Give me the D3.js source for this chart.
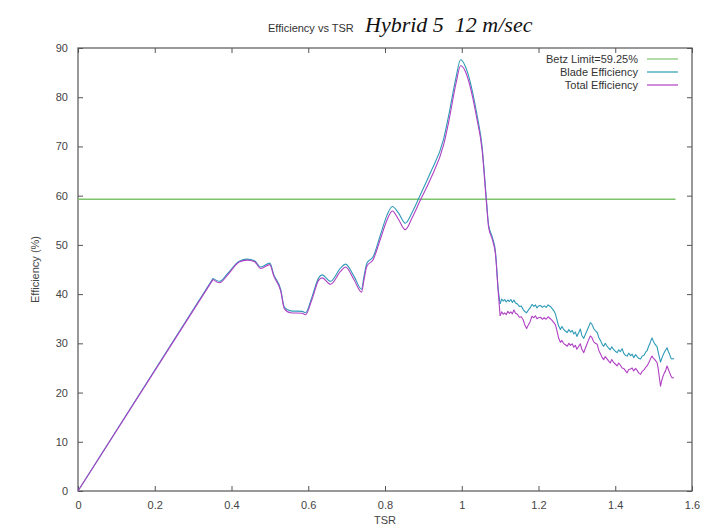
<!DOCTYPE html>
<html>
<head>
<meta charset="utf-8">
<script src="https://cdn.jsdelivr.net/npm/d3@7"></script>
<style>
  body { margin: 0; background: #fff; }
</style>
</head>
<body>
<div id="chart"></div>
<script>
// ─── DATA ───
// smooth part of the curves (0 .. 1.1)
const tsrSmooth = [0, 0.352, 0.369, 0.39, 0.42, 0.441, 0.46, 0.476, 0.5, 0.51, 0.528, 0.538, 0.554, 0.584, 0.593,
  0.61, 0.627, 0.636, 0.658, 0.684, 0.697, 0.72, 0.739, 0.745, 0.753, 0.769, 0.788, 0.805, 0.819, 0.835, 0.853,
  0.87, 0.891, 0.918, 0.953, 0.966, 0.985, 0.997, 1.008, 1.018, 1.04, 1.053, 1.064, 1.07, 1.08, 1.088, 1.095, 1.1];
const bladeSmooth = [0, 43.2, 42.6, 44.2, 46.7, 47.1, 46.8, 45.5, 46.3, 44.0, 41.0, 37.3, 36.6, 36.5, 36.2,
  39.5, 43.3, 43.9, 42.6, 45.3, 46.1, 43.5, 41.0, 43.5, 46.3, 47.6, 52.0, 56.0, 57.8, 56.5, 54.4,
  56.5, 60.0, 64.6, 71.6, 76.3, 84.0, 87.6, 86.5, 84.3, 76.3, 70.0, 59.5, 54.0, 51.5, 48.5, 41.0, 38.0];
const totalSmooth = [0, 43.0, 42.3, 43.9, 46.5, 46.9, 46.6, 45.2, 46.0, 43.7, 40.7, 37.0, 36.2, 36.1, 35.8,
  39.0, 42.8, 43.3, 42.0, 44.6, 45.5, 42.8, 40.4, 42.8, 45.7, 47.0, 51.2, 55.0, 56.9, 55.2, 53.1,
  55.4, 58.9, 63.3, 70.4, 75.0, 82.8, 86.4, 85.5, 83.3, 75.4, 69.3, 58.9, 53.6, 51.0, 48.0, 40.5, 35.6];

// noisy tail (after 1.1)
const tsrTail = [1.104, 1.108, 1.112, 1.116, 1.120, 1.124, 1.128, 1.132, 1.136, 1.140,
  1.145, 1.150, 1.155, 1.160, 1.165, 1.169, 1.174, 1.178, 1.183, 1.188,
  1.192, 1.196, 1.200, 1.205, 1.210, 1.215, 1.220, 1.225, 1.231, 1.236,
  1.240, 1.244, 1.248, 1.252, 1.257, 1.261, 1.265, 1.270, 1.275, 1.279,
  1.283, 1.288, 1.292, 1.296, 1.300, 1.305, 1.309, 1.313, 1.318, 1.322,
  1.326, 1.330, 1.335, 1.339, 1.344, 1.348, 1.353, 1.357, 1.362, 1.366,
  1.370, 1.374, 1.378, 1.383, 1.387, 1.391, 1.395, 1.400, 1.405, 1.409,
  1.413, 1.418, 1.422, 1.426, 1.431, 1.435, 1.440, 1.444, 1.448, 1.453,
  1.457, 1.462, 1.466, 1.470, 1.475, 1.479, 1.483, 1.487, 1.490, 1.494,
  1.496, 1.499, 1.502, 1.506, 1.509, 1.512, 1.515, 1.518, 1.521, 1.524,
  1.528, 1.531, 1.535, 1.538, 1.541, 1.545, 1.548, 1.553];
const bladeTail = [39.0, 38.6, 38.9, 38.4, 38.8, 38.5, 38.9, 38.3, 38.8, 38.2,
  38.0, 37.5, 37.6, 36.9, 36.4, 36.2, 36.8, 37.2, 37.9, 37.5,
  37.8, 37.2, 37.6, 37.7, 37.3, 37.6, 37.3, 37.8, 37.5, 37.0,
  36.6, 36.0, 34.8, 33.6, 32.8, 33.4, 32.9, 32.5, 32.2, 32.8,
  32.3, 32.6, 31.9, 32.3, 31.4, 32.2, 32.9, 31.6, 31.0, 31.8,
  32.5, 33.2, 34.2, 33.9, 33.0, 32.6, 32.2, 31.2, 30.5, 29.8,
  29.4, 30.0, 29.5, 29.0, 28.7, 29.3, 28.8, 28.4, 28.1, 28.7,
  28.3, 28.9, 28.0, 27.6, 27.4, 28.0, 27.5, 27.8, 27.1, 27.7,
  27.3, 26.9, 26.8, 27.4, 27.6, 28.2, 28.5, 29.4, 29.9, 30.8,
  31.1, 30.5, 30.0, 29.6, 29.3, 28.2, 27.2, 26.2, 26.9, 27.5,
  28.2, 28.6, 29.1, 28.4, 27.9, 27.0, 26.8, 26.9];
const totalTail = [36.4, 35.9, 36.2, 35.8, 36.5, 36.1, 36.4, 36.0, 36.8, 36.1,
  35.9, 35.3, 35.4, 34.8, 33.6, 33.0, 33.8, 34.4, 35.5, 35.2,
  35.6, 35.0, 35.2, 35.3, 34.9, 35.2, 34.9, 35.4, 35.0, 34.6,
  34.2, 33.8, 32.6, 31.2, 30.2, 30.6, 30.0, 29.7, 29.4, 30.0,
  29.6, 29.9, 29.2, 29.6, 28.8, 29.4, 29.9, 28.8, 28.1, 29.0,
  29.8, 30.6, 31.5, 31.2, 30.3, 30.0, 29.8, 28.6, 27.8, 27.1,
  26.7, 27.3, 26.9, 26.4, 26.0, 26.7, 26.2, 25.8, 25.4, 26.0,
  25.6, 25.0, 24.9, 24.5, 24.0, 24.7, 24.8, 25.0, 24.4, 24.9,
  24.5, 23.9, 23.7, 24.3, 24.6, 25.1, 25.4, 26.0, 26.5, 27.2,
  27.4, 27.0, 26.8, 26.4, 26.1, 24.8, 23.0, 21.3, 22.4, 23.2,
  24.0, 24.4, 25.4, 24.8, 24.2, 23.4, 23.0, 23.0];

const betzLimit = 59.25;
const betzRange = [0, 1.557];

const xTicks = [0, 0.2, 0.4, 0.6, 0.8, 1, 1.2, 1.4, 1.6];
const yTicks = [0, 10, 20, 30, 40, 50, 60, 70, 80, 90];

const seriesNames = ["Betz Limit=59.25%", "Blade Efficiency", "Total Efficiency"];
const seriesColors = ["#7cc46c", "#2e9ab8", "#b040c4"];

// ─── CHART ───
const width = 718, height = 531;
const margin = { top: 48, right: 26, bottom: 40, left: 78 };
const sans = "Liberation Sans, Arial, sans-serif";

const svg = d3.select("#chart").append("svg")
  .attr("width", width)
  .attr("height", height)
  .style("font-family", sans);

const x = d3.scaleLinear().domain([0, 1.6]).range([margin.left, width - margin.right]);
const y = d3.scaleLinear().domain([0, 90]).range([height - margin.bottom, margin.top]);

const axisColor = "#555";
const labelColor = "#444";

// frame
svg.append("rect")
  .attr("x", x(0)).attr("y", y(90))
  .attr("width", x(1.6) - x(0)).attr("height", y(0) - y(90))
  .attr("fill", "none").attr("stroke", axisColor).attr("stroke-width", 1.2);

// inward ticks, mirrored on all four sides
const tickLen = 5;
const styleLabels = g => g.selectAll(".tick text")
  .attr("fill", labelColor).attr("font-size", 11).attr("font-family", sans);

svg.append("g").attr("transform", `translate(0,${y(0)})`)
  .call(d3.axisBottom(x).tickValues(xTicks).tickSize(-tickLen).tickPadding(10).tickFormat(d3.format("")))
  .call(g => g.select(".domain").remove())
  .call(g => g.selectAll(".tick line").attr("stroke", axisColor))
  .call(styleLabels);

svg.append("g").attr("transform", `translate(0,${y(90)})`)
  .call(d3.axisTop(x).tickValues(xTicks).tickSize(-tickLen).tickFormat(""))
  .call(g => g.select(".domain").remove())
  .call(g => g.selectAll(".tick line").attr("stroke", axisColor));

svg.append("g").attr("transform", `translate(${x(0)},0)`)
  .call(d3.axisLeft(y).tickValues(yTicks).tickSize(-tickLen).tickPadding(10))
  .call(g => g.select(".domain").remove())
  .call(g => g.selectAll(".tick line").attr("stroke", axisColor))
  .call(styleLabels);

svg.append("g").attr("transform", `translate(${x(1.6)},0)`)
  .call(d3.axisRight(y).tickValues(yTicks).tickSize(-tickLen).tickFormat(""))
  .call(g => g.select(".domain").remove())
  .call(g => g.selectAll(".tick line").attr("stroke", axisColor));

// Betz limit
svg.append("line")
  .attr("x1", x(betzRange[0])).attr("x2", x(betzRange[1]))
  .attr("y1", y(betzLimit)).attr("y2", y(betzLimit))
  .attr("stroke", seriesColors[0]).attr("stroke-width", 1.5);

// curves: straight start-up ramp, smooth middle, raw noisy tail
const drawSeries = (smooth, tail, color) => {
  const pts = tsrSmooth.map((t, i) => [t, smooth[i]]);
  const tailPts = [pts[pts.length - 1]].concat(tsrTail.map((t, i) => [t, tail[i]]));
  const linear = d3.line().x(d => x(d[0])).y(d => y(d[1]));
  const curved = d3.line().x(d => x(d[0])).y(d => y(d[1])).curve(d3.curveMonotoneX);
  const g = svg.append("g").attr("fill", "none").attr("stroke", color).attr("stroke-width", 1.1);
  g.append("path").attr("d", linear(pts.slice(0, 2)));
  g.append("path").attr("d", curved(pts.slice(1)));
  g.append("path").attr("d", linear(tailPts)).attr("stroke-linejoin", "round");
};

drawSeries(bladeSmooth, bladeTail, seriesColors[1]);
drawSeries(totalSmooth, totalTail, seriesColors[2]);

// legend
const legend = svg.append("g");
seriesNames.forEach((name, i) => {
  const ly = 59 + i * 13;
  legend.append("text")
    .attr("x", 638).attr("y", ly + 4)
    .attr("text-anchor", "end")
    .attr("font-size", 11).attr("fill", "#333")
    .text(name);
  legend.append("line")
    .attr("x1", 647).attr("x2", 678)
    .attr("y1", ly).attr("y2", ly)
    .attr("stroke", seriesColors[i]).attr("stroke-width", 1.2);
});

// axis titles
svg.append("text")
  .attr("x", x(0.8)).attr("y", 524)
  .attr("text-anchor", "middle").attr("font-size", 11).attr("fill", labelColor)
  .text("TSR");

svg.append("text")
  .attr("transform", `translate(39,${y(45)}) rotate(-90)`)
  .attr("text-anchor", "middle").attr("font-size", 11).attr("fill", labelColor)
  .text("Efficiency (%)");

// titles
svg.append("text")
  .attr("x", 268).attr("y", 32)
  .attr("font-size", 11).attr("fill", "#333")
  .text("Efficiency vs TSR");

svg.append("text")
  .attr("x", 365).attr("y", 32)
  .attr("xml:space", "preserve")
  .style("white-space", "pre")
  .style("font-family", "Liberation Serif, 'Times New Roman', serif")
  .style("font-style", "italic")
  .attr("font-size", 22).attr("fill", "#111")
  .text("Hybrid 5  12 m/sec");
</script>
</body>
</html>
